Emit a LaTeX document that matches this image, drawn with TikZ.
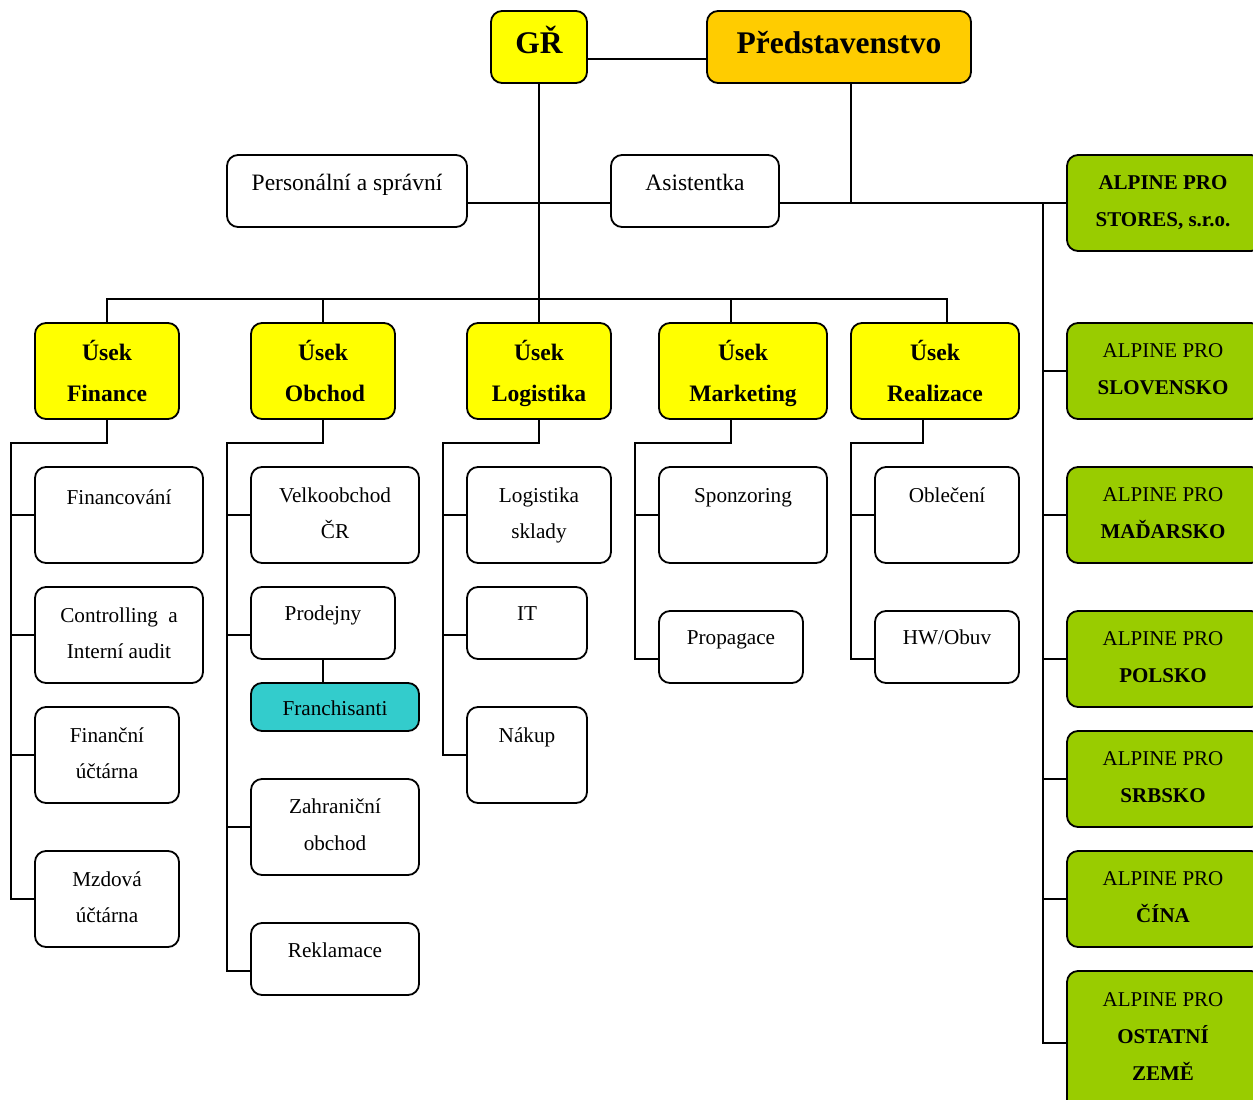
\documentclass[tikz,border=0pt]{standalone}
\usepackage{fontspec}
\setmainfont{Liberation Serif}
\usetikzlibrary{fit}
\definecolor{cyel}{HTML}{FFFF00}
\definecolor{cgold}{HTML}{FFCC00}
\definecolor{cgreen}{HTML}{99CC00}
\definecolor{cteal}{HTML}{33CCCC}
\begin{document}
\begin{tikzpicture}[x=1pt,y=-1pt,
  box/.style={draw, line width=1.8pt, rounded corners=11pt, inner sep=0pt, fill=white},
  ybox/.style={box, fill=cyel},
  gbox/.style={box, fill=cgold},
  lbox/.style={box, fill=cgreen},
  tbox/.style={box, fill=cteal},
  conn/.style={line width=1.8pt},
  tx/.style={anchor=base, inner sep=0pt, font=\fontsize{21.2}{25}\selectfont},
  txl/.style={anchor=base, inner sep=0pt, font=\fontsize{23.5}{28}\selectfont},
  txb/.style={anchor=base, inner sep=0pt, font=\fontsize{23.6}{28}\selectfont\bfseries},
  txh/.style={anchor=base, inner sep=0pt, font=\fontsize{31.5}{36}\selectfont\bfseries},
  txg/.style={anchor=base, inner sep=0pt, font=\fontsize{21}{25}\selectfont},
  txgb/.style={anchor=base, inner sep=0pt, font=\fontsize{21}{25}\selectfont\bfseries}
]
\path[use as bounding box, clip] (0,0) rectangle (1253,1100);
\fill[white] (0,0) rectangle (1253,1100);

% ---------- boxes ----------
\node[ybox, fit={(491,11)(587,83)}] (gr) {};
\node[gbox, fit={(707,11)(971,83)}] (pv) {};
\node[box, fit={(227,155)(467,227)}] (ps) {};
\node[box, fit={(611,155)(779,227)}] (as) {};

\node[ybox, fit={(35,323)(179,419)}] (uf) {};
\node[ybox, fit={(251,323)(395,419)}] (uo) {};
\node[ybox, fit={(467,323)(611,419)}] (ul) {};
\node[ybox, fit={(659,323)(827,419)}] (um) {};
\node[ybox, fit={(851,323)(1019,419)}] (ur) {};

\node[box, fit={(35,467)(203,563)}] (fi) {};
\node[box, fit={(35,587)(203,683)}] (co) {};
\node[box, fit={(35,707)(179,803)}] (fu) {};
\node[box, fit={(35,851)(179,947)}] (mz) {};

\node[box, fit={(251,467)(419,563)}] (ve) {};
\node[box, fit={(251,587)(395,659)}] (pd) {};
\node[tbox, fit={(251,683)(419,731)}] (fr) {};
\node[box, fit={(251,779)(419,875)}] (za) {};
\node[box, fit={(251,923)(419,995)}] (re) {};

\node[box, fit={(467,467)(611,563)}] (ls) {};
\node[box, fit={(467,587)(587,659)}] (it) {};
\node[box, fit={(467,707)(587,803)}] (na) {};

\node[box, fit={(659,467)(827,563)}] (sp) {};
\node[box, fit={(659,611)(803,683)}] (pg) {};

\node[box, fit={(875,467)(1019,563)}] (ob) {};
\node[box, fit={(875,611)(1019,683)}] (hw) {};

\node[lbox, fit={(1067,155)(1262,251)}] (st) {};
\node[lbox, fit={(1067,323)(1262,419)}] (sk) {};
\node[lbox, fit={(1067,467)(1262,563)}] (hu) {};
\node[lbox, fit={(1067,611)(1262,707)}] (pl) {};
\node[lbox, fit={(1067,731)(1262,827)}] (rs) {};
\node[lbox, fit={(1067,851)(1262,947)}] (cn) {};
\node[lbox, fit={(1067,971)(1262,1115)}] (oz) {};

% ---------- helper coordinates ----------
\coordinate (bus) at (539,299);
\coordinate (sF) at (11,443);
\coordinate (sO) at (227,443);
\coordinate (sL) at (443,443);
\coordinate (sM) at (635,443);
\coordinate (sR) at (851,443);
\coordinate (sG) at (1043,203);
\coordinate (grE) at ([yshift=-12pt]gr.east);
\coordinate (pvW) at ([yshift=-12pt]pv.west);
\coordinate (pvS) at ([xshift=12pt]pv.south);
\coordinate (psE) at ([yshift=-12pt]ps.east);
\coordinate (asW) at ([yshift=-12pt]as.west);
\coordinate (asE) at ([yshift=-12pt]as.east);
\coordinate (umN) at ([xshift=-12pt]um.north);
\coordinate (umS) at ([xshift=-12pt]um.south);
\coordinate (urN) at ([xshift=12pt]ur.north);
\coordinate (urS) at ([xshift=-12pt]ur.south);
\coordinate (pdW) at ([yshift=-12pt]pd.west);
\coordinate (reW) at ([yshift=-12pt]re.west);
\coordinate (itW) at ([yshift=-12pt]it.west);
\coordinate (pgW) at ([yshift=-12pt]pg.west);
\coordinate (hwW) at ([yshift=-12pt]hw.west);

% ---------- connectors ----------
\draw[conn] (grE) -- (pvW);
\draw[conn] (gr.south) -- (bus);
\draw[conn] (pvS) -- (pvS |- sG);
\draw[conn] (psE) -- (asW);
\draw[conn] (asE) -- (st.west);
\draw[conn] (uf.north) |- (urN |- bus) -- (urN);
\draw[conn] (uo.north) -- (uo.north |- bus);
\draw[conn] (ul.north) -- (ul.north |- bus);
\draw[conn] (umN) -- (umN |- bus);

% Finance
\draw[conn] (uf.south) |- (sF) |- (mz.west);
\draw[conn] (sF |- fi.west) -- (fi.west);
\draw[conn] (sF |- co.west) -- (co.west);
\draw[conn] (sF |- fu.west) -- (fu.west);
% Obchod
\draw[conn] (uo.south) |- (sO) |- (reW);
\draw[conn] (sO |- ve.west) -- (ve.west);
\draw[conn] (sO |- pdW) -- (pdW);
\draw[conn] (sO |- za.west) -- (za.west);
\draw[conn] (pd.south) -- (pd.south |- fr.north);
% Logistika
\draw[conn] (ul.south) |- (sL) |- (na.west);
\draw[conn] (sL |- ls.west) -- (ls.west);
\draw[conn] (sL |- itW) -- (itW);
% Marketing
\draw[conn] (umS) |- (sM) |- (pgW);
\draw[conn] (sM |- sp.west) -- (sp.west);
% Realizace
\draw[conn] (urS) |- (sR) |- (hwW);
\draw[conn] (sR |- ob.west) -- (ob.west);
% Subsidiaries
\draw[conn] (sG) |- (oz.west);
\draw[conn] (sG |- sk.west) -- (sk.west);
\draw[conn] (sG |- hu.west) -- (hu.west);
\draw[conn] (sG |- pl.west) -- (pl.west);
\draw[conn] (sG |- rs.west) -- (rs.west);
\draw[conn] (sG |- cn.west) -- (cn.west);

% ---------- texts ----------
\node[txh] (t01) at (539,53) {GŘ};
\node[txh] (t02) at (839,53) {Představenstvo};
\node[txl] (t03) at (347,190) {Personální a správní};
\node[txl] (t04) at (695,190) {Asistentka};

\node[txb] (t05) at (107,360) {Úsek};
\node[txb] (t06) at (107,401) {Finance};
\node[txb] (t07) at (323,360) {Úsek};
\node[txb] (t08) at (325,401) {Obchod};
\node[txb] (t09) at (539,360) {Úsek};
\node[txb] (t10) at (539,401) {Logistika};
\node[txb] (t11) at (743,360) {Úsek};
\node[txb] (t12) at (743,401) {Marketing};
\node[txb] (t13) at (935,360) {Úsek};
\node[txb] (t14) at (935,401) {Realizace};

\node[tx] (t15) at (119,504) {Financování};
\node[tx] (t16) at (119,622) {Controlling\hspace{5pt} a};
\node[tx] (t17) at (119,658) {Interní audit};
\node[tx] (t18) at (107,742) {Finanční};
\node[tx] (t19) at (107,778) {účtárna};
\node[tx] (t20) at (107,886) {Mzdová};
\node[tx] (t21) at (107,922) {účtárna};

\node[tx] (t22) at (335,502) {Velkoobchod};
\node[tx] (t23) at (335,538) {ČR};
\node[tx] (t24) at (323,620) {Prodejny};
\node[tx] (t25) at (335,715) {Franchisanti};
\node[tx] (t26) at (335,813) {Zahraniční};
\node[tx] (t27) at (335,850) {obchod};
\node[tx] (t28) at (335,957) {Reklamace};

\node[tx] (t29) at (539,502) {Logistika};
\node[tx] (t30) at (539,538) {sklady};
\node[tx] (t31) at (527,620) {IT};
\node[tx] (t32) at (527,742) {Nákup};

\node[tx] (t33) at (743,502) {Sponzoring};
\node[tx] (t34) at (731,644) {Propagace};

\node[tx] (t35) at (947,502) {Oblečení};
\node[tx] (t36) at (947,644) {HW/Obuv};

\node[txgb] (t37) at (1163,189) {ALPINE PRO};
\node[txgb] (t38) at (1163,226) {STORES, s.r.o.};
\node[txg] (t39) at (1163,357) {ALPINE PRO};
\node[txgb] (t40) at (1163,394) {SLOVENSKO};
\node[txg] (t41) at (1163,501) {ALPINE PRO};
\node[txgb] (t42) at (1163,538) {MAĎARSKO};
\node[txg] (t43) at (1163,645) {ALPINE PRO};
\node[txgb] (t44) at (1163,682) {POLSKO};
\node[txg] (t45) at (1163,765) {ALPINE PRO};
\node[txgb] (t46) at (1163,802) {SRBSKO};
\node[txg] (t47) at (1163,885) {ALPINE PRO};
\node[txgb] (t48) at (1163,922) {ČÍNA};
\node[txg] (t49) at (1163,1006) {ALPINE PRO};
\node[txgb] (t50) at (1163,1043) {OSTATNÍ};
\node[txgb] (t51) at (1163,1080) {ZEMĚ};
\end{tikzpicture}
\end{document}
